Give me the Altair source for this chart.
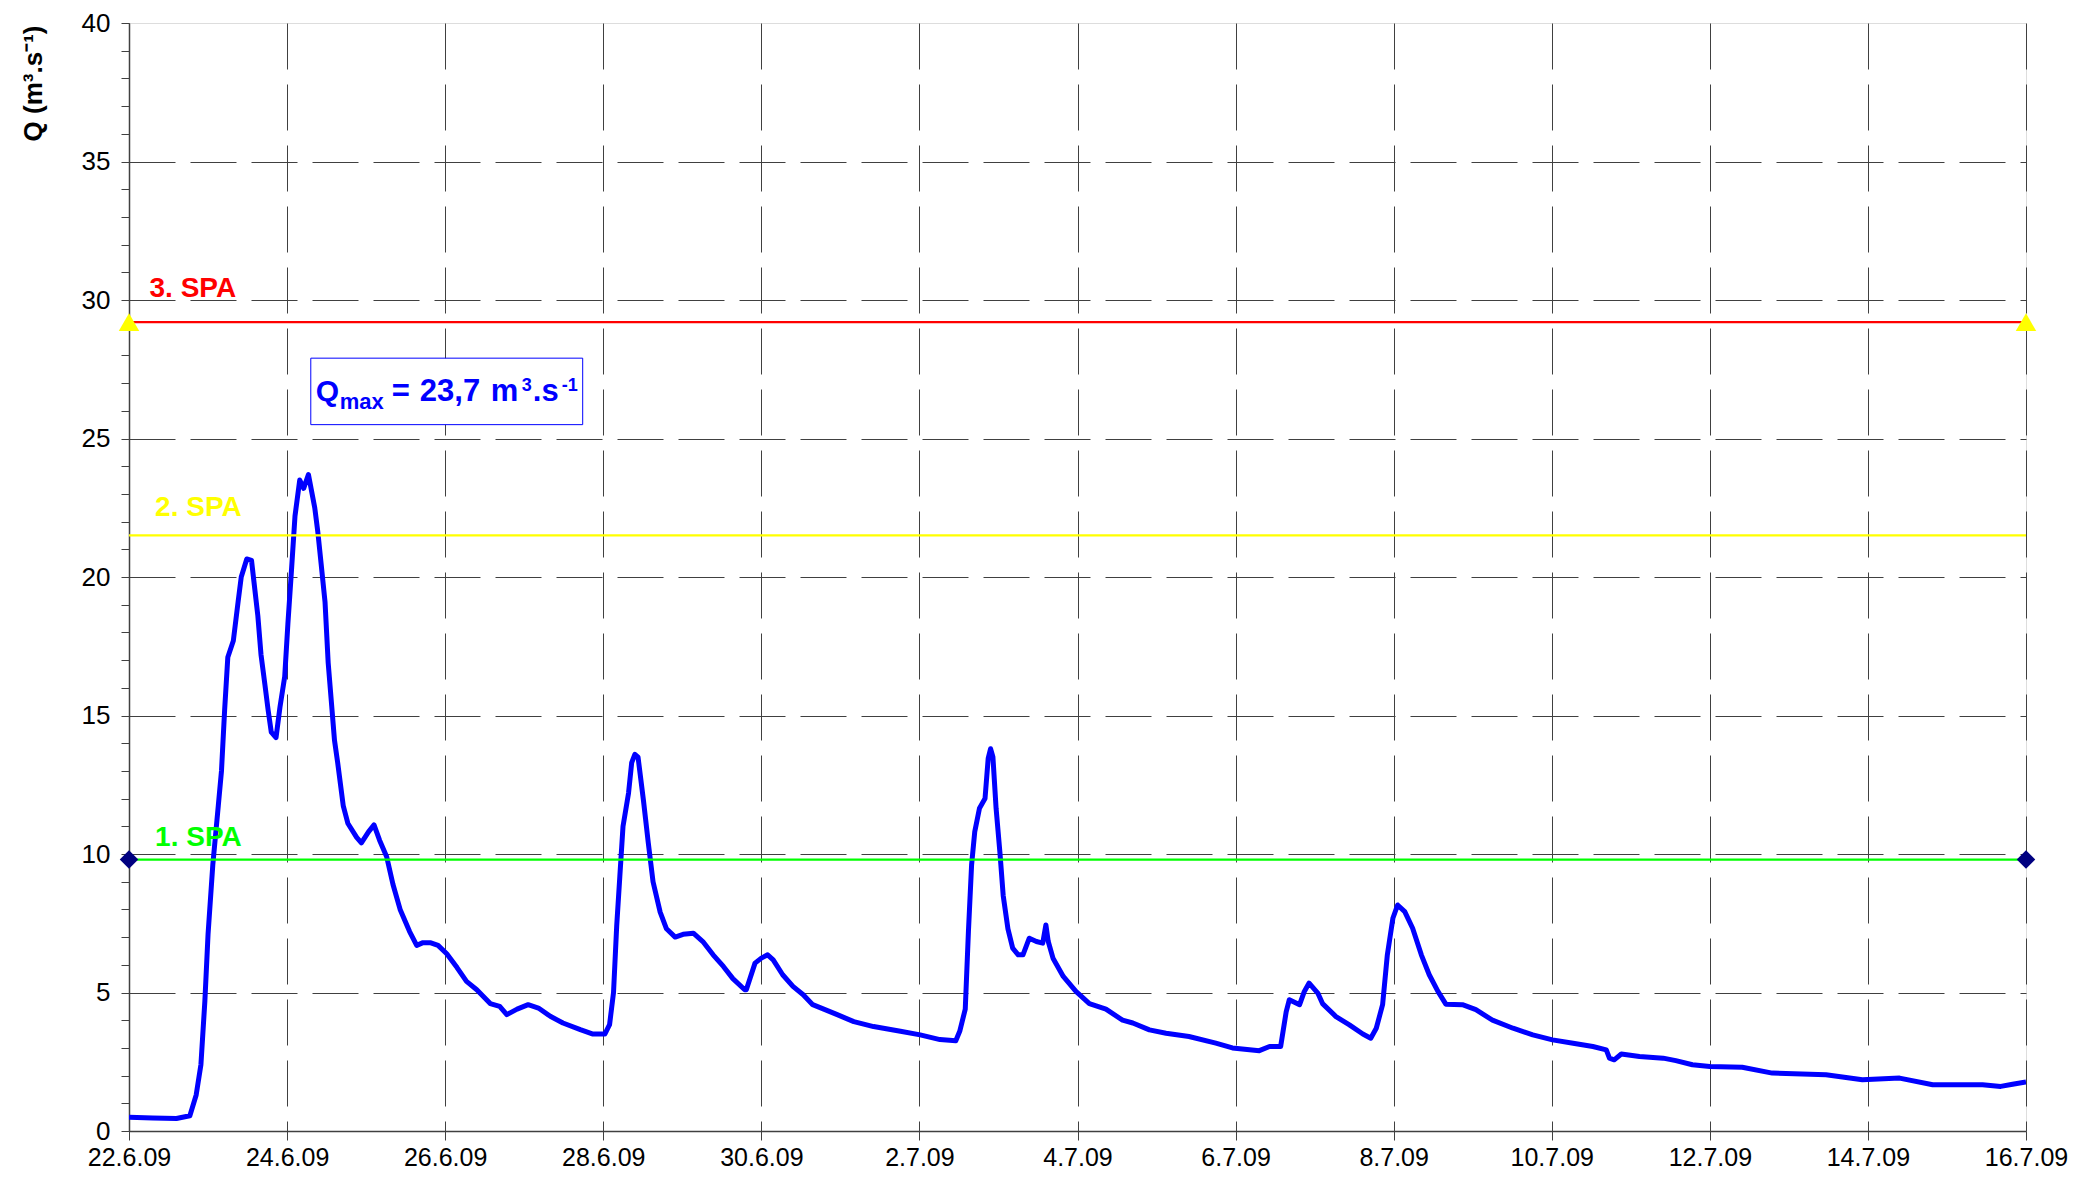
import json
import altair as alt
import pandas as pd

# ---- data ----
day = [0.00, 0.30, 0.60, 0.77, 0.85, 0.91, 0.96, 1.00, 1.06, 1.13, 1.17, 1.21, 1.25, 1.32, 1.38, 1.42,
       1.49, 1.55, 1.63, 1.67, 1.72, 1.76, 1.80, 1.86, 1.91, 1.97, 2.01, 2.05, 2.10, 2.16, 2.21, 2.27,
       2.35, 2.39, 2.43, 2.48, 2.52, 2.56, 2.60, 2.64, 2.71, 2.77, 2.88, 2.94, 3.03, 3.10, 3.17, 3.26,
       3.34, 3.43, 3.55, 3.64, 3.72, 3.81, 3.91, 4.02, 4.15, 4.27, 4.40, 4.57, 4.69, 4.78, 4.91, 5.05,
       5.18, 5.33, 5.49, 5.71, 5.87, 6.02, 6.08, 6.13, 6.17, 6.21, 6.25, 6.32, 6.36, 6.40, 6.44, 6.51,
       6.57, 6.63, 6.72, 6.80, 6.91, 7.01, 7.14, 7.26, 7.39, 7.52, 7.64, 7.79, 7.81, 7.92, 8.00, 8.08,
       8.15, 8.27, 8.40, 8.53, 8.65, 8.79, 8.96, 9.17, 9.42, 9.76, 10.01, 10.26, 10.46, 10.51, 10.58,
       10.62, 10.66, 10.70, 10.76, 10.83, 10.87, 10.90, 10.93, 10.97, 11.02, 11.06, 11.12, 11.18,
       11.25, 11.31, 11.39, 11.48, 11.56, 11.60, 11.63, 11.69, 11.82, 11.98, 12.15, 12.36, 12.57,
       12.70, 12.91, 13.12, 13.41, 13.75, 13.96, 14.30, 14.43, 14.57, 14.64, 14.68, 14.81, 14.87,
       14.93, 15.04, 15.10, 15.27, 15.44, 15.61, 15.71, 15.78, 15.86, 15.92, 15.99, 16.05, 16.14,
       16.24, 16.35, 16.45, 16.56, 16.66, 16.87, 17.04, 17.25, 17.51, 17.76, 18.01, 18.27, 18.52,
       18.69, 18.73, 18.79, 18.88, 19.11, 19.41, 19.57, 19.78, 20.00, 20.41, 20.79, 21.47, 21.93,
       22.40, 22.82, 23.45, 23.68, 23.83, 24.00]
flow = [0.50, 0.47, 0.45, 0.55, 1.3, 2.4, 4.7, 7.1, 9.6, 11.75, 13.0, 15.2, 17.1, 17.7, 19.1, 20.0,
        20.65, 20.6, 18.6, 17.2, 16.1, 15.2, 14.4, 14.2, 15.3, 16.4, 18.3, 20.0, 22.2, 23.5, 23.2, 23.7,
        22.5, 21.6, 20.5, 19.1, 16.9, 15.5, 14.1, 13.3, 11.75, 11.1, 10.6, 10.4, 10.8, 11.05, 10.5, 9.9,
        8.9, 8.0, 7.2, 6.7, 6.8, 6.8, 6.7, 6.4, 5.9, 5.4, 5.1, 4.6, 4.5, 4.2, 4.4, 4.56,
        4.44, 4.14, 3.9, 3.66, 3.5, 3.5, 3.84, 5.0, 7.4, 9.2, 11.0, 12.2, 13.3, 13.6, 13.5, 11.9,
        10.4, 9.0, 7.9, 7.3, 7.0, 7.1, 7.14, 6.84, 6.36, 5.94, 5.5, 5.1, 5.1, 6.06, 6.24, 6.36,
        6.18, 5.64, 5.22, 4.92, 4.56, 4.4, 4.2, 3.95, 3.77, 3.6, 3.47, 3.3, 3.26, 3.6, 4.4,
        7.2, 9.6, 10.8, 11.65, 12.0, 13.45, 13.8, 13.5, 11.65, 10.0, 8.5, 7.3, 6.6,
        6.36, 6.36, 6.96, 6.84, 6.78, 7.44, 6.84, 6.24, 5.58, 5.04, 4.6, 4.4, 4.0,
        3.9, 3.65, 3.53, 3.41, 3.17, 3.0, 2.9, 3.05, 3.05, 4.3, 4.74, 4.56, 5.04,
        5.34, 4.98, 4.6, 4.13, 3.83, 3.5, 3.35, 3.71, 4.56, 6.36, 7.68, 8.16, 7.92,
        7.32, 6.36, 5.64, 5.04, 4.58, 4.56, 4.38, 4.0, 3.71, 3.47, 3.29, 3.17, 3.05,
        2.93, 2.63, 2.57, 2.78, 2.69, 2.63, 2.54, 2.39, 2.33, 2.3, 2.09, 2.03, 1.85,
        1.91, 1.67, 1.67, 1.61, 1.69, 1.77]

x_labels = ["22.6.09", "24.6.09", "26.6.09", "28.6.09", "30.6.09", "2.7.09", "4.7.09",
            "6.7.09", "8.7.09", "10.7.09", "12.7.09", "14.7.09", "16.7.09"]
x_start, x_end = 0, 24
y_min, y_max = 0, 40

spa_names = ["1. SPA", "2. SPA", "3. SPA"]
spa_values = [9.8, 21.5, 29.2]
spa_colors = ["#00FF00", "#FFFF00", "#FF0000"]
spa_label_day = [0.33, 0.33, 0.26]
spa_label_q = [10.3, 22.2, 30.1]

# Qmax annotation box (data coords) and its text pieces
qbox_x = [2.30, 5.74]
qbox_y = [25.5, 27.9]
qtext_y = 26.35
q_parts = ["Q", "max", "=", "23,7", "m", "3", ".s", "-1"]

FONT = "Liberation Sans"
W, H = 1897, 1108

df_line = pd.DataFrame({"day": day, "q": flow})
x_scale = alt.Scale(domain=[x_start, x_end], nice=False, zero=False)
y_scale = alt.Scale(domain=[y_min, y_max], nice=False)

x_axis = alt.Axis(
    values=list(range(x_start, x_end + 1, 2)),
    labelExpr=json.dumps(x_labels) + "[round(datum.value / 2)]",
    title=None, grid=True, gridDash=[46, 15], gridColor="#404040", gridWidth=1,
    tickSize=9, tickColor="#404040", domainColor="#404040", domainWidth=1.5,
    labelFont=FONT, labelFontSize=25, labelColor="black", labelPadding=5,
    labelFlush=False, labelOverlap=False,
)
y_axis = alt.Axis(
    values=list(range(y_min, y_max + 1)),
    labelExpr="datum.value % 5 === 0 ? datum.label : ''",
    title="Q (m³.s⁻¹)", titleFont=FONT, titleFontSize=26, titleFontWeight="bold",
    titleColor="black", titleAngle=270, titleX=-88, titleY=2, titleAlign="right",
    titleBaseline="alphabetic",
    grid=True, gridDash=[46, 15], gridColor="#404040", gridWidth=1,
    gridOpacity={"condition": {"test": "datum.value % 5 === 0 && datum.value > 0 && datum.value < 40",
                               "value": 1}, "value": 0},
    tickSize=8, tickColor="#404040", domainColor="#404040", domainWidth=1.5,
    labelFont=FONT, labelFontSize=26, labelColor="black", labelPadding=11,
    labelOverlap=False,
)


def X(field):
    return alt.X(field, scale=x_scale, axis=x_axis)


def Y(field):
    return alt.Y(field, scale=y_scale, axis=y_axis)


line = alt.Chart(df_line).mark_line(color="#0000FF", strokeWidth=5, clip=True,
                                    strokeJoin="round").encode(
    x=X("day:Q"),
    y=Y("q:Q"),
)

df_spa = pd.DataFrame({"name": spa_names, "value": spa_values, "color": spa_colors,
                       "lday": spa_label_day, "lq": spa_label_q})
rules = alt.Chart(df_spa).mark_rule(strokeWidth=2.2).encode(
    y=Y("value:Q"),
    color=alt.Color("color:N", scale=None),
)
spa_text = alt.Chart(df_spa).mark_text(
    font=FONT, fontSize=28, fontWeight="bold", align="left", baseline="alphabetic"
).encode(
    x=X("lday:Q"),
    y=Y("lq:Q"),
    text="name:N",
    color=alt.Color("color:N", scale=None),
)

df_tri = pd.DataFrame({"day": [x_start, x_end], "value": [spa_values[2]] * 2})
tri = alt.Chart(df_tri).mark_point(shape="triangle-up", filled=True, color="#FFFF00",
                                   size=420, opacity=1).encode(
    x=X("day:Q"),
    y=Y("value:Q"),
)
df_dia = pd.DataFrame({"day": [x_start, x_end], "value": [spa_values[0]] * 2})
dia = alt.Chart(df_dia).mark_point(shape="diamond", filled=True, color="#000080",
                                   size=340, opacity=1).encode(
    x=X("day:Q"),
    y=Y("value:Q"),
)

df_box = pd.DataFrame({"x0": [qbox_x[0]], "x1": [qbox_x[1]], "y0": [qbox_y[0]], "y1": [qbox_y[1]]})
box = alt.Chart(df_box).mark_rect(fill="white", stroke="#0000FF", strokeWidth=1).encode(
    x=X("x0:Q"), x2="x1:Q",
    y=Y("y0:Q"), y2="y1:Q",
)

# text pieces: (dx px from box left, dy px from baseline, font size)
piece_style = [(5, 0, 30), (29, 8, 22), (81, 0, 31), (109, 0, 31), (180, 0, 31),
               (211, -10, 18), (222, 0, 31), (251, -10, 18)]
texts = []
df_q = pd.DataFrame({"x": [qbox_x[0]], "y": [qtext_y]})
for part, (dx, dy, fs) in zip(q_parts, piece_style):
    texts.append(
        alt.Chart(df_q).mark_text(
            text=part, font=FONT, fontSize=fs, fontWeight="bold", color="#0000FF",
            align="left", baseline="alphabetic", dx=dx, dy=dy
        ).encode(
            x=X("x:Q"),
            y=Y("y:Q"),
        )
    )

chart = alt.layer(line, rules, spa_text, box, *texts, tri, dia).properties(
    width=W, height=H,
    autosize=alt.AutoSizeParams(type="none"),
    padding={"left": 121, "top": 15, "right": 42, "bottom": 40},
).configure_view(stroke="#808080", strokeWidth=2).configure(background="white")

chart.save("out.html", embed_options={"renderer": "svg", "actions": False})
